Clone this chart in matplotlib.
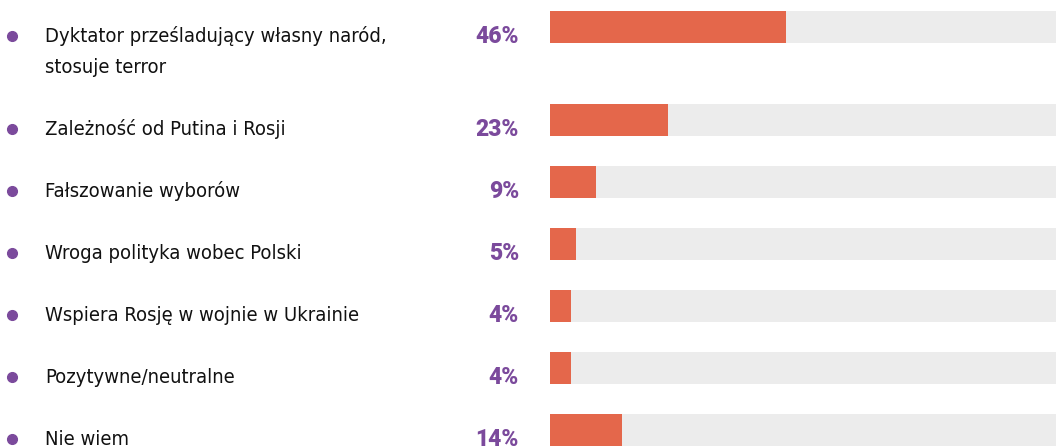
import matplotlib.pyplot as plt
from matplotlib.transforms import blended_transform_factory

# survey answers and shares (%)
labels = ["Dyktator prześladujący własny naród,\nstosuje terror",
          "Zależność od Putina i Rosji",
          "Fałszowanie wyborów",
          "Wroga polityka wobec Polski",
          "Wspiera Rosję w wojnie w Ukrainie",
          "Pozytywne/neutralne",
          "Nie wiem"]
values = [46, 23, 9, 5, 4, 4, 14]
rows = [0, 1.5, 2.5, 3.5, 4.5, 5.5, 6.5]

orange = "#e4674b"
track = "#ececec"
purple = "#7b4a9c"

fig = plt.figure(figsize=(10.56, 4.47), dpi=100)
ax = fig.add_axes([0, 0, 1, 1])
ax.set_xlim(-107.2, 98.6)
ax.set_ylim(6.774, -0.435)
ax.axis("off")

ax.barh(rows, [100] * len(rows), height=0.52, color=track, left=0)
ax.barh(rows, values, height=0.52, color=orange, left=0)

tr = blended_transform_factory(fig.transFigure, ax.transData)
off = 0.15  # text sits a bit below the bar centre
for r, lab, v in zip(rows, labels, values):
    ax.plot(12 / 1056, r + off, "o", color=purple, markersize=7, transform=tr)
    for i, line in enumerate(lab.split("\n")):
        ax.text(45 / 1056, r + off + 0.5 * i, line, transform=tr, va="center",
                ha="left", fontsize=14.5, color="#111111",
                family="DejaVu Sans", fontstretch="condensed")
    ax.text(519 / 1056, r + off, f"{v}%", transform=tr, va="center", ha="right",
            fontsize=16.5, fontweight=900, color=purple, family="Roboto")

fig.savefig("out.png", dpi=100)
